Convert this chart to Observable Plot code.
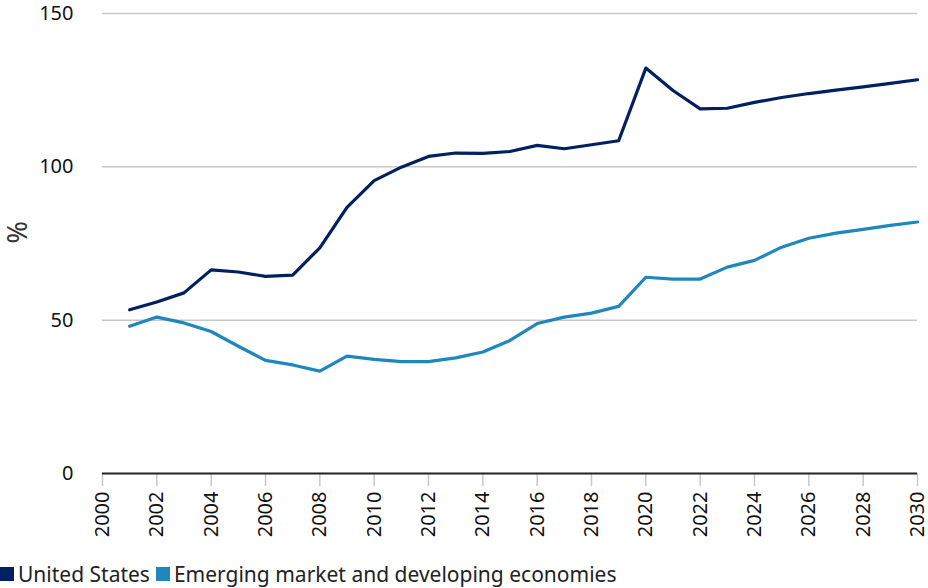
<!DOCTYPE html>
<html>
<head>
<meta charset="utf-8">
<script src="https://cdn.jsdelivr.net/npm/d3@7"></script>
<script src="https://cdn.jsdelivr.net/npm/@observablehq/plot@0.6"></script>
<style>
  body { margin: 0; background: #fff; font-family: "Noto Sans", sans-serif; }
  #legend { display: flex; align-items: center; font-size: 21px; line-height: 28px; color: #222; height: 28px; }
  .sw { display: inline-block; width: 14px; height: 14px; margin-right: 4px; }
  .item { display: flex; align-items: center; margin-right: 6px; }
</style>
</head>
<body>
<div id="chart"></div>
<div id="legend"></div>
<script>
const years = d3.range(2001, 2031);
const seriesNames = ["United States", "Emerging market and developing economies"];
const seriesColors = ["#002060", "#1f87bd"];
const usValues = [53.4, 55.9, 58.9, 66.4, 65.7, 64.3, 64.7, 73.6, 86.8, 95.5,
                  99.9, 103.4, 104.5, 104.4, 105.0, 107.0, 105.9, 107.2, 108.5, 132.2,
                  124.9, 118.9, 119.1, 121.0, 122.6, 123.9, 125.0, 126.1, 127.2, 128.4];
const emdeValues = [48.0, 51.0, 49.1, 46.3, 41.5, 36.9, 35.4, 33.4, 38.3, 37.2,
                    36.5, 36.5, 37.7, 39.6, 43.4, 48.9, 51.0, 52.3, 54.5, 64.0,
                    63.4, 63.4, 67.3, 69.5, 73.8, 76.7, 78.4, 79.6, 80.9, 82.0];
const yTicks = [0, 50, 100, 150];
const xTicks = d3.range(2000, 2031, 2);
const yLabel = "%";

const data = [];
years.forEach((yr, i) => {
  data.push({year: yr, value: usValues[i], series: seriesNames[0]});
  data.push({year: yr, value: emdeValues[i], series: seriesNames[1]});
});

const chart = Plot.plot({
  width: 928,
  height: 560,
  marginTop: 13,
  marginBottom: 87,
  marginLeft: 102,
  marginRight: 11,
  style: {fontFamily: "Noto Sans", fontSize: "20px", color: "#111"},
  x: {domain: [2000, 2030]},
  y: {domain: [0, 150]},
  color: {domain: seriesNames, range: seriesColors},
  marks: [
    Plot.ruleY(yTicks.filter(d => d > 0), {stroke: "#c8c8c8", strokeWidth: 1.5}),
    Plot.axisX({ticks: xTicks, text: null, tickSize: 13, stroke: "#c8c8c8", strokeWidth: 1.5, label: null}),
    Plot.axisX({ticks: xTicks, tickSize: 0, tickPadding: 18, tickRotate: -90, tickFormat: d => String(d), label: null, fontSize: 20}),
    Plot.axisY({ticks: yTicks, tickSize: 0, tickPadding: 29, fontSize: 20, label: null}),
    Plot.text([yLabel], {text: d => d, frameAnchor: "left", dx: -84, rotate: -90, fontSize: 27, fill: "#333"}),
    Plot.ruleY([0], {stroke: "#222", strokeWidth: 2}),
    Plot.line(data, {x: "year", y: "value", z: "series", stroke: "series", strokeWidth: 3.2})
  ]
});
document.getElementById("chart").appendChild(chart);

const legend = document.getElementById("legend");
seriesNames.forEach((n, i) => {
  const it = document.createElement("span");
  it.className = "item";
  const sw = document.createElement("span");
  sw.className = "sw";
  sw.style.background = seriesColors[i];
  it.appendChild(sw);
  it.appendChild(document.createTextNode(n));
  legend.appendChild(it);
});
</script>
</body>
</html>
